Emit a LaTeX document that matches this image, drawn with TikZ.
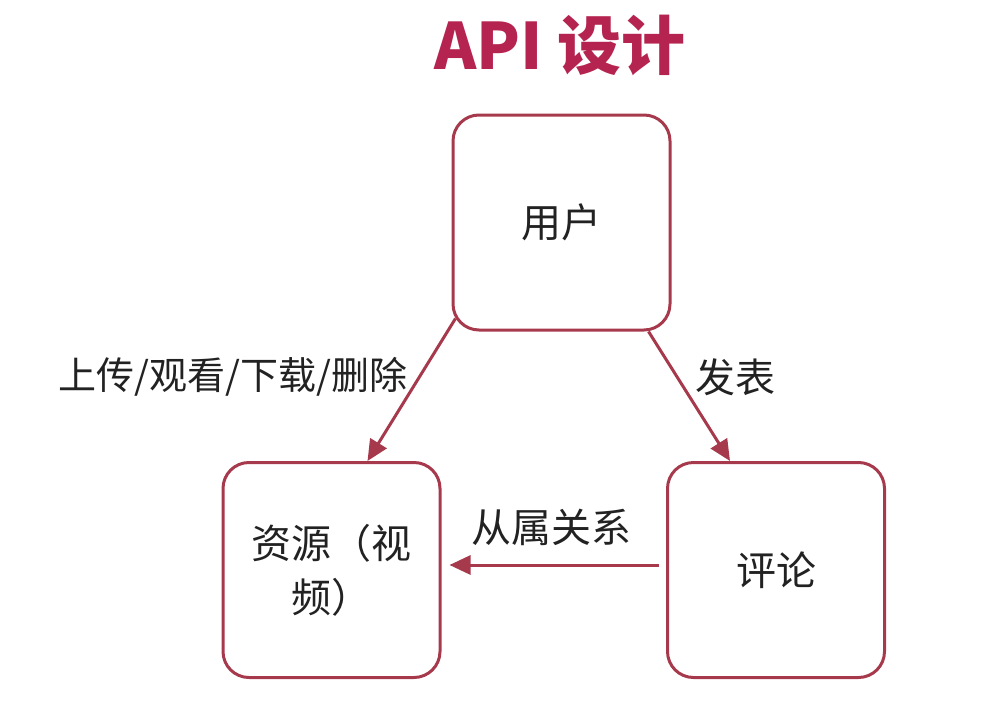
\documentclass[tikz,border=0pt]{standalone}
\usepackage{fontspec}
\setmainfont{Noto Sans CJK SC}
\usetikzlibrary{arrows.meta}
\definecolor{boxc}{HTML}{A63A4C}
\definecolor{titlec}{HTML}{B52450}
\definecolor{txt}{HTML}{222222}
\begin{document}
\begin{tikzpicture}[x=1pt,y=-1pt,
  box/.style={draw=boxc, line width=3pt, rounded corners=26pt,
    minimum width=217pt, minimum height=215pt, inner sep=0pt,
    align=center, text=txt, font=\fontsize{40}{54}\selectfont},
  arr/.style={draw=boxc, line width=3pt, -{Triangle[length=21pt,width=19pt]}},
  lab/.style={text=txt, inner sep=0pt, font=\fontsize{40}{48}\selectfont}]
\useasboundingbox (0,0) rectangle (1000,717);
\node[text=titlec, inner sep=0pt, font=\bfseries\fontsize{64}{68}\selectfont] (title) at (560,45) {API 设计};
\node[box] (user) at (561.5,222.5) {用户};
\node[box] (res) at (331.5,570) {资源（视\\频）};
\node[box] (com) at (776,570) {评论};
\draw[arr] ([xshift=4pt,yshift=13pt]user.south west) -- ([xshift=36pt]res.north);
\draw[arr] ([xshift=-23pt]user.south east) -- ([xshift=-46pt]com.north);
\draw[arr, shorten <=7pt, shorten >=8pt] ([yshift=5pt]com.west) -- ([yshift=5pt]res.east);
\node[lab, font=\fontsize{38}{46}\selectfont] (l1) at (233,377) {上传/观看/下载/删除};
\node[lab] (l2) at (735,377) {发表};
\node[lab] (l3) at (551,527) {从属关系};
\end{tikzpicture}
\end{document}
